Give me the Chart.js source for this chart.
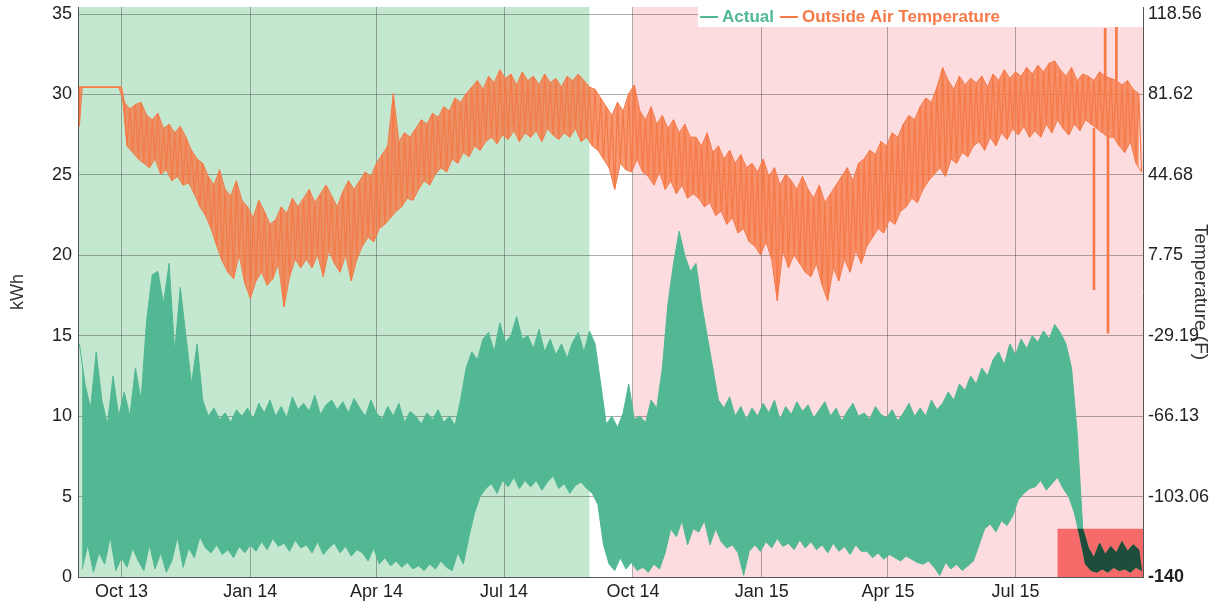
<!DOCTYPE html>
<html>
<head>
<meta charset="utf-8">
<script src="https://cdn.jsdelivr.net/npm/chart.js@4.4.1/dist/chart.umd.min.js"></script>
<style>
html,body{margin:0;padding:0;background:#fff;}
#wrap{width:1216px;height:607px;position:relative;}
</style>
</head>
<body>
<div id="wrap"><canvas id="c" width="1216" height="607"></canvas></div>
<script>
// ---- Data (days counted from 1 Sep 2013; each 4-day bin: peak reading, then trough reading 2 days later) ----
const BIN_DAYS = 4;

const kwhHigh = [
 14.5,12,10.5,14,11,9.5,12.5,10,11.5,10,
 13,11,16,18.8,19,17,19.5,14,18,15,
 12,14.5,11,10,10.5,9.8,10.2,9.6,10.4,10,
 10.5,9.8,10.8,10.2,11,10,10.6,9.9,11.2,10.4,
 10.8,10.3,11.3,10.1,10.7,11,10.4,10.9,10.2,11.1,
 10.5,10,11,10.2,9.8,10.6,10,10.8,9.6,10.3,
 10,9.5,10.2,9.8,10.4,9.6,10,9.4,11,13,
 14,13.5,14.8,15.2,14,15.8,14.6,15,16.2,14.8,
 15,14.2,15.4,14,14.8,13.8,14.5,13.6,14.6,15.2,
 14,15.3,14.5,12,9.5,10,9.3,10.2,12,9.8,
 10,9.6,11,10.5,13,17,19.5,21.5,20,19,
 19.5,17,15,13,11,10.5,11.2,10,10.6,9.8,
 10.5,10,10.8,10.2,11,9.8,10.6,10.1,10.9,10.3,
 10.7,9.9,10.4,10.9,10,10.5,9.7,10.3,10.8,10,
 10.2,9.8,10.6,10.1,9.9,10.4,9.7,10.2,10.8,10,
 10.5,10,11,10.4,10.8,11.5,11,12,11.6,12.5,
 12,13,12.5,13.5,14,13.2,14.5,13.8,14.8,14.2,
 15,14.6,15.3,14.8,15.7,15.2,14.5,13,9,3,
 1.8,1.2,2.1,1.4,1.9,1.5,2.2,1.6,2,1.7
];
const kwhLow = [
 0.5,2,0.3,1.5,0.8,2.5,0.4,1.2,0.6,1.8,
 1,0.4,2,0.5,1.5,0.3,1,2.5,0.6,1.8,
 1.2,2.5,1.8,1.5,2,1.4,1.7,1.2,1.9,1.5,
 2,1.6,2.2,1.7,2.4,1.9,2.1,1.6,2.3,1.8,
 2,1.5,2.2,1.4,1.8,2.1,1.5,1.9,1.3,1.7,
 1.5,1,1.8,0.8,1.2,0.7,1,0.6,0.9,0.5,
 0.7,0.4,0.8,0.5,1,0.6,0.4,1.5,0.8,2.5,
 4,5,5.5,5.8,5.2,6,5.6,6.2,5.5,6,
 5.6,6,5.4,5.9,6.3,5.5,5.8,5.2,5.7,5.9,
 5.5,5.2,4.5,2,0.8,0.4,1.2,0.5,0.9,0.4,
 0.6,0.3,0.8,0.5,1.5,3,2.5,3.5,2,3,
 2.8,3.5,2,3,2.2,1.8,2,1.5,0.1,1.6,
 2,1.6,2.2,1.8,2.4,1.9,2.1,1.7,2.3,1.8,
 2.2,1.7,2,1.5,2.1,1.6,1.9,1.4,2,1.6,
 1.6,1.2,1.5,1.1,1.4,1.2,1,1.3,1.1,0.9,
 0.8,1,0.6,0.1,0.9,0.5,0.8,0.4,0.7,1,
 2,3,3.3,2.8,3.5,3.2,3.8,4.8,5.2,5.5,
 5.6,6,5.4,5.8,6.2,5.5,5,4,2.5,0.8,
 0.4,0.3,0.5,0.3,0.6,0.4,0.5,0.3,0.6,0.4
];

const tempFirstReading = 67;
const tempHigh = [
 85,85,85,85,85,85,85,85,78,75,
 77,78,72,70,73,66,68,64,67,62,
 56,52,50,44,40,47,38,35,42,33,
 30,25,33,28,22,24,30,27,34,30,
 34,38,32,36,40,35,30,37,42,38,
 42,46,44,50,54,58,82,60,64,62,
 66,70,68,73,71,76,74,80,78,82,
 85,88,84,90,87,93,89,91,86,92,
 88,90,86,91,87,89,85,90,88,91,
 88,85,84,80,76,72,78,74,82,86,
 74,70,76,68,72,66,70,64,68,62,
 62,58,64,55,58,52,56,50,54,48,
 50,46,52,44,48,40,45,42,38,44,
 38,34,40,32,36,40,44,48,42,50,
 52,56,54,60,58,64,62,68,72,70,
 76,80,78,85,94,88,84,90,86,89,
 87,90,85,91,88,93,89,92,90,94,
 91,95,92,96,97,93,90,94,88,91,
 90,88,92,90,89,88,86,88,84,82
];
const tempLow = [
 85,85,85,85,85,85,85,85,58,55,
 52,50,48,52,45,47,42,44,40,41,
 36,30,26,20,12,5,0,-3,8,-5,
 -12,-4,0,-6,-3,4,-16,-2,6,2,
 6,2,8,-2,10,4,0,8,-4,6,
 12,16,14,20,22,25,28,30,34,33,
 38,42,40,45,48,46,52,50,55,53,
 58,56,60,62,59,63,61,65,60,64,
 62,65,60,66,63,61,64,62,66,60,
 62,58,56,52,48,38,50,47,46,52,
 46,44,40,46,38,42,36,40,34,36,
 34,30,32,26,28,22,25,18,20,14,
 12,8,14,6,-13,10,2,8,4,0,
 -2,4,-6,-13,2,-4,6,0,10,4,
 12,16,20,18,24,22,28,30,34,32,
 38,42,45,48,44,52,50,55,53,58,
 60,56,62,58,64,61,66,63,67,62,
 65,62,68,64,70,66,63,68,65,70,
 68,66,64,62,62,58,55,60,50,46
];
// isolated sensor spikes (day, from, to) in °F
const tempSpikeDays   = [724, 732, 734, 740];
const tempSpikeFrom   = [66, 88, 62, 88];
const tempSpikeTo     = [-8, 112, -28, 115];

const xTickDays   = [30, 122, 212, 303, 395, 487, 577, 668];
const xTickLabels = ['Oct 13','Jan 14','Apr 14','Jul 14','Oct 14','Jan 15','Apr 15','Jul 15'];
const kwhTicks    = [0, 5, 10, 15, 20, 25, 30, 35];
const tempTicks   = [-140, -103.06, -66.13, -29.19, 7.75, 44.68, 81.62, 118.56];
const tempTickLabels = ['-140','-103.06','-66.13','-29.19','7.75','44.68','81.62','118.56'];

const greenPeriod = [-1, 364];   // days
const pinkPeriod  = [395, 759];  // days
const alertBox    = {fromDay: 698, topKwh: 3};

const legendItems = ['Actual', 'Outside Air Temperature'];

// ---- styling ----
const FONT = '"Liberation Sans", Arial, Helvetica, sans-serif';
const GREEN = '#52b893', ORANGE = '#f57a48', DARK = '#1e4d3b';
const GRID = 'rgba(60,60,60,0.42)';
const legendColors = [GREEN, ORANGE];
Chart.defaults.font.family = FONT;

const kwhHighPts = kwhHigh.map((v, i) => ({x: i * BIN_DAYS, y: v}));
const kwhLowPts  = kwhLow.map((v, i) => ({x: i * BIN_DAYS + BIN_DAYS / 2, y: v}));
const tempHighPts = tempHigh.map((v, i) => ({x: i * BIN_DAYS, y: v}));
const tempLowPts  = [{x: 0, y: tempFirstReading}].concat(tempLow.map((v, i) => ({x: i * BIN_DAYS + BIN_DAYS / 2, y: v})));
const tempZigzag = [{x: 0, y: tempFirstReading}];
tempHigh.forEach((v, i) => {
  tempZigzag.push({x: i * BIN_DAYS, y: v});
  tempZigzag.push({x: i * BIN_DAYS + BIN_DAYS / 2, y: tempLow[i]});
});
const spikePts = tempSpikeDays.map((d, i) => ({x: d, y: [tempSpikeFrom[i], tempSpikeTo[i]]}));

const bgPlugin = {
  id: 'bg',
  beforeDraw(chart) {
    const {ctx, chartArea: a, scales: {x, y}} = chart;
    ctx.save();
    ctx.fillStyle = '#c4e8cf';
    let l = Math.max(a.left, x.getPixelForValue(greenPeriod[0])), r = x.getPixelForValue(greenPeriod[1]);
    ctx.fillRect(l, a.top, r - l, a.bottom - a.top);
    ctx.fillStyle = '#fddcdf';
    l = x.getPixelForValue(pinkPeriod[0]); r = Math.min(a.right, x.getPixelForValue(pinkPeriod[1]));
    ctx.fillRect(l, a.top, r - l, a.bottom - a.top);
    ctx.fillStyle = '#f76a6a';
    l = x.getPixelForValue(alertBox.fromDay);
    const t = y.getPixelForValue(alertBox.topKwh);
    ctx.fillRect(l, t, a.right - l, a.bottom - t);
    ctx.restore();
  }
};

const overlayPlugin = {
  id: 'overlay',
  afterDatasetsDraw(chart) {
    const {ctx, chartArea: a, scales: {x, y}} = chart;
    const hi = chart.getDatasetMeta(0).data, lo = chart.getDatasetMeta(1).data;
    const l = x.getPixelForValue(alertBox.fromDay);
    const t = y.getPixelForValue(alertBox.topKwh);
    ctx.save();
    ctx.beginPath();
    ctx.rect(l, t, a.right - l, a.bottom - t);
    ctx.clip();
    ctx.fillStyle = DARK; ctx.strokeStyle = DARK; ctx.lineWidth = 1;
    ctx.beginPath();
    hi.forEach((p, i) => { if (i) ctx.lineTo(p.x, p.y); else ctx.moveTo(p.x, p.y); });
    for (let i = lo.length - 1; i >= 0; i--) ctx.lineTo(lo[i].x, lo[i].y);
    ctx.closePath();
    ctx.fill(); ctx.stroke();
    ctx.restore();
  }
};

const legendPlugin = {
  id: 'topLegend',
  afterDraw(chart) {
    const {ctx, chartArea: a} = chart;
    ctx.save();
    ctx.fillStyle = '#ffffff';
    ctx.fillRect(698, a.top, a.right - 698, 20);
    ctx.font = 'bold 17px ' + FONT;
    ctx.textBaseline = 'middle';
    const yy = a.top + 10;
    let xx = 700;
    legendItems.forEach((label, k) => {
      ctx.strokeStyle = legendColors[k];
      ctx.lineWidth = 2;
      ctx.beginPath(); ctx.moveTo(xx, yy); ctx.lineTo(xx + 18, yy); ctx.stroke();
      xx += 22;
      ctx.fillStyle = legendColors[k];
      ctx.fillText(label, xx, yy);
      xx += ctx.measureText(label).width + 6;
    });
    ctx.restore();
  }
};

const noPad = s => { s.paddingTop = 0; s.paddingBottom = 0; s.paddingLeft = 0; s.paddingRight = 0; };

new Chart(document.getElementById('c'), {
  type: 'line',
  data: {
    datasets: [
      {label: 'Actual', data: kwhHighPts, borderColor: GREEN, backgroundColor: GREEN, borderWidth: 1,
       pointRadius: 0, tension: 0, fill: '+1', yAxisID: 'y', order: 3},
      {label: 'Actual (low)', data: kwhLowPts, borderColor: GREEN, borderWidth: 1,
       pointRadius: 0, tension: 0, fill: false, yAxisID: 'y', order: 3},
      {label: 'Outside Air Temperature', data: tempHighPts, borderColor: ORANGE, backgroundColor: 'rgba(245,122,72,0.78)', borderWidth: 1,
       pointRadius: 0, tension: 0, fill: '+1', yAxisID: 'y2', order: 2},
      {label: 'Outside Air Temperature (low)', data: tempLowPts, borderColor: ORANGE, borderWidth: 1,
       pointRadius: 0, tension: 0, fill: false, yAxisID: 'y2', order: 2},
      {label: 'Outside Air Temperature (readings)', data: tempZigzag, borderColor: ORANGE, borderWidth: 1.2,
       pointRadius: 0, tension: 0, fill: false, yAxisID: 'y2', order: 1},
      {type: 'bar', label: 'Temperature spikes', data: spikePts, backgroundColor: ORANGE, borderWidth: 0,
       barThickness: 2, yAxisID: 'y2', order: 0}
    ]
  },
  options: {
    responsive: false, animation: false, devicePixelRatio: 1,
    layout: {padding: {top: 7, left: 0, right: 0, bottom: 0}},
    plugins: {legend: {display: false}, tooltip: {enabled: false}},
    scales: {
      x: {
        type: 'linear', min: -1, max: 759, offset: false,
        afterBuildTicks: s => { s.ticks = xTickDays.map(v => ({value: v})); },
        afterFit: s => { s.height = 30; noPad(s); },
        ticks: {autoSkip: false, maxRotation: 0, padding: 4, color: '#222', font: {size: 18},
                callback: (v, i) => xTickLabels[i]},
        grid: {color: GRID, drawTicks: false, offset: false},
        border: {color: '#555', width: 1}
      },
      y: {
        position: 'left', min: 0, max: 35.44,
        afterBuildTicks: s => { s.ticks = kwhTicks.map(v => ({value: v})); },
        afterFit: s => { s.width = 78; noPad(s); },
        ticks: {padding: 6, color: '#222', font: {size: 18}, callback: v => String(v)},
        grid: {color: GRID, drawTicks: false},
        border: {color: '#555', width: 1},
        title: {display: true, text: 'kWh', color: '#333', font: {size: 18}, padding: {top: 7, bottom: 0}}
      },
      y2: {
        position: 'right', min: -140, max: 121.8,
        afterBuildTicks: s => { s.ticks = tempTicks.map(v => ({value: v})); },
        afterFit: s => { s.width = 73; noPad(s); },
        ticks: {padding: 5, color: '#222',
                font: c => ({size: 18, weight: c.index === 0 ? 'bold' : 'normal'}),
                callback: (v, i) => tempTickLabels[i]},
        grid: {display: false, drawTicks: false},
        border: {color: '#555', width: 1},
        title: {display: true, text: 'Temperature (F)', color: '#333', font: {size: 19}, padding: {top: 4, bottom: 0}}
      }
    }
  },
  plugins: [bgPlugin, overlayPlugin, legendPlugin]
});
</script>
</body>
</html>
